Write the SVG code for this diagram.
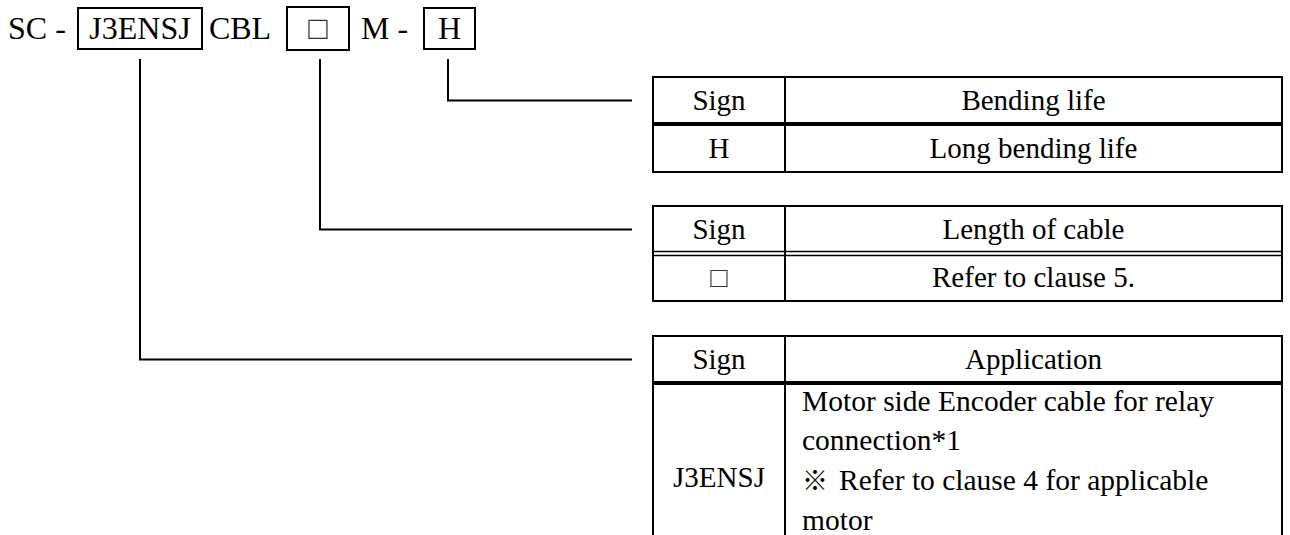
<svg xmlns="http://www.w3.org/2000/svg" width="1290" height="535" viewBox="0 0 1290 535" font-family="'Liberation Serif', 'Times New Roman', 'DejaVu Serif', serif">
<style>
text{font-family:'Liberation Serif','Times New Roman','DejaVu Serif',serif;fill:#000}
.top{font-size:32px}
.t{font-size:29px}
.r{font-size:29.5px}
.c{text-anchor:middle}
.cjk{font-family:'Noto Sans CJK JP',sans-serif;font-size:26px}
.box{fill:none;stroke:#000;stroke-width:2}
.ln{fill:none;stroke:#000;stroke-width:2}
.div{stroke:#000;stroke-width:2}
.thick{stroke:#000;stroke-width:4}
.thin{stroke:#000;stroke-width:1.5}
.sq{fill:#333}
</style>
<rect width="1290" height="535" fill="#fff"/>
<g id="code">
  <text class="top" x="8" y="39">SC -</text>
  <g id="box-j3ensj"><rect class="box" x="78" y="8" width="124" height="41"/><text class="top c" x="140" y="39">J3ENSJ</text></g>
  <text class="top c" x="240" y="39">CBL</text>
  <g id="box-length"><rect class="box" x="287" y="7" width="62" height="43"/><text class="top c sq" x="318" y="39">□</text></g>
  <text class="top" x="361" y="39">M -</text>
  <g id="box-h"><rect class="box" x="424" y="8" width="51" height="41"/><text class="top c" x="449.5" y="39">H</text></g>
</g>
<g id="connectors">
  <polyline class="ln" points="448,59 448,100.5 632,100.5"/>
  <polyline class="ln" points="320,59 320,229.5 632,229.5"/>
  <polyline class="ln" points="140,59 140,359.5 632,359.5"/>
</g>
<g id="table-bending">
  <rect class="box" x="653" y="77" width="629" height="95"/>
  <line class="div" x1="785" y1="77" x2="785" y2="172"/>
  <line class="thick" x1="653" y1="124" x2="1282" y2="124"/>
  <text class="t c" x="719" y="110">Sign</text>
  <text class="t c" x="1033.5" y="110">Bending life</text>
  <text class="t c" x="719" y="158">H</text>
  <text class="t c" x="1033.5" y="158">Long bending life</text>
</g>
<g id="table-length">
  <rect class="box" x="653" y="206" width="629" height="95"/>
  <line class="div" x1="785" y1="206" x2="785" y2="301"/>
  <line class="thin" x1="653" y1="251.5" x2="1282" y2="251.5"/>
  <line class="thin" x1="653" y1="255.5" x2="1282" y2="255.5"/>
  <text class="t c" x="719" y="239">Sign</text>
  <text class="t c" x="1033.5" y="239">Length of cable</text>
  <text class="t c sq" x="719" y="287">□</text>
  <text class="t c" x="1033.5" y="287">Refer to clause 5.</text>
</g>
<g id="table-application">
  <path class="ln" d="M653,545 V336 H1282 V545"/>
  <line class="div" x1="785" y1="336" x2="785" y2="545"/>
  <line class="thick" x1="653" y1="383" x2="1282" y2="383"/>
  <text class="t c" x="719" y="369">Sign</text>
  <text class="t c" x="1033.5" y="369">Application</text>
  <text class="t c" x="719" y="487">J3ENSJ</text>
  <text class="t r" x="802" y="411">Motor side Encoder cable for relay</text>
  <text class="t r" x="802" y="450">connection*1</text>
  <text class="t r" x="802" y="490"><tspan class="cjk">※</tspan><tspan x="839">Refer to clause 4 for applicable</tspan></text>
  <text class="t r" x="802" y="530">motor</text>
</g>
</svg>
